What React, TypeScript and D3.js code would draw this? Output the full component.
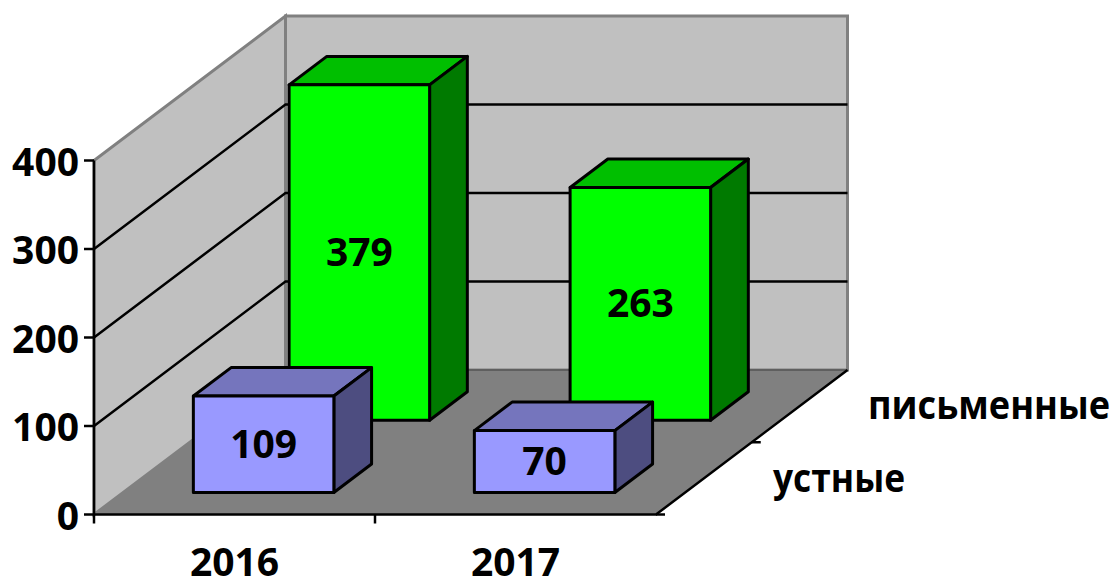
import React from "react";
import * as d3 from "d3";

const categories = ["2016", "2017"];
const seriesNames = ["устные", "письменные"];
const oralValues = [109, 70];
const writtenValues = [379, 263];
const valueTicks = [0, 100, 200, 300, 400];

const FONT = "'Open Sans', 'Noto Sans', sans-serif";
const palettes = [
  { front: "#9999FF", top: "#7575BD", side: "#4D4D80" },
  { front: "#00FF00", top: "#00BF00", side: "#007A00" },
];

const W = 1112, H = 578;
const x0 = 94, x1 = 656, y0 = 514.5;
const DX = 191.5, DY = -144.5;

const xScale = d3.scaleBand<string>().domain(categories).range([x0, x1]).paddingInner(0).paddingOuter(0);
const yScale = d3.scaleLinear().domain([0, 400]).range([0, 354]);
const zBand = d3.scaleBand<string>().domain(seriesNames).range([0, 1]);

const proj = (x: number, v: number, z: number): [number, number] => [x + DX * z, y0 - yScale(v) + DY * z];
const poly = (pts: [number, number][]) => d3.line()(pts)! + "Z";

const seriesValues = [oralValues, writtenValues];
const fontSize = 39;

export default function App() {
  const barW = xScale.bandwidth() / 2;
  const zW = zBand.bandwidth();
  const zIn = 0.304 * zW, zOut = 0.304 * zW + 0.394 * zW;
  const vBack = 400;
  return (
    <svg width={W} height={H} style={{ position: "absolute", left: 0, top: 0, background: "#fff" }} fontFamily={FONT}>
      {/* left wall */}
      <path d={poly([proj(x0, 0, 0), proj(x0, vBack, 0), proj(x0, vBack, 1), proj(x0, 0, 1)])} fill="#C0C0C0" stroke="#808080" strokeWidth={3} />
      {/* back wall */}
      <path d={poly([proj(x0, 0, 1), proj(x0, vBack, 1), proj(x1, vBack, 1), proj(x1, 0, 1)])} fill="#C0C0C0" stroke="#808080" strokeWidth={3} />
      {/* floor */}
      <path d={poly([proj(x0, 0, 0), proj(x0, 0, 1), proj(x1, 0, 1), proj(x1, 0, 0)])} fill="#808080" stroke="#808080" strokeWidth={1} />
      <path d={d3.line()([proj(x0, 0, 1), proj(x1, 0, 1)])!} stroke="#555" strokeWidth={1.5} fill="none" />
      {/* gridlines */}
      {valueTicks.filter((t) => t > 0 && t < 400).map((t) => (
        <path key={t} d={d3.line()([proj(x0, t, 0), proj(x0, t, 1), proj(x1, t, 1)])!} stroke="#000" strokeWidth={2.5} fill="none" />
      ))}
      {/* front axes */}
      <path d={d3.line()([proj(x0, 400, 0), proj(x0, 0, 0), proj(x1, 0, 0), proj(x1, 0, 1)])!} stroke="#000" strokeWidth={2.5} fill="none" />
      {valueTicks.map((t) => {
        const [px, py] = proj(x0, t, 0);
        return (
          <g key={t}>
            <line x1={px - 10} x2={px} y1={py} y2={py} stroke="#000" strokeWidth={2.5} />
            <text x={px - 15} y={py + 5} textAnchor="end" dominantBaseline="middle" fontSize={fontSize} fontWeight={700}>{t}</text>
          </g>
        );
      })}
      {[x0, x0 + xScale.step()].map((x) => (
        <line key={x} x1={x} x2={x} y1={y0} y2={y0 + 9} stroke="#000" strokeWidth={2.5} />
      ))}
      {[0, 0.5].map((z) => {
        const [px, py] = proj(x1, 0, z);
        return <line key={z} x1={px} x2={px + 9} y1={py} y2={py} stroke="#000" strokeWidth={2.5} />;
      })}
      {categories.map((c) => (
        <text key={c} x={xScale(c)! + xScale.bandwidth() / 2} y={566} textAnchor="middle" dominantBaseline="middle" fontSize={fontSize} fontWeight={700}>{c}</text>
      ))}
      <text x={868} y={409} dominantBaseline="middle" fontSize={fontSize} fontWeight={700} textLength={242} lengthAdjust="spacingAndGlyphs">{seriesNames[1]}</text>
      <text x={773} y={482} dominantBaseline="middle" fontSize={fontSize} fontWeight={700} textLength={132} lengthAdjust="spacingAndGlyphs">{seriesNames[0]}</text>
      {/* bars, back series first */}
      {[1, 0].map((s) => {
        const zStart = zBand(seriesNames[s])!;
        const za = zStart + zIn, zb = zStart + zOut;
        return categories.map((c, i) => {
          const v = seriesValues[s][i];
          const xa = xScale(c)! + xScale.bandwidth() / 4;
          const xb = xa + barW;
          const stroke = { stroke: "#000", strokeWidth: 3, strokeLinejoin: "round" as const };
          const [cx, cyTop] = proj((xa + xb) / 2, v, za);
          const [, cyBot] = proj(xa, 0, za);
          return (
            <g key={s + c}>
              <path d={poly([proj(xa, v, za), proj(xa, v, zb), proj(xb, v, zb), proj(xb, v, za)])} fill={palettes[s].top} {...stroke} />
              <path d={poly([proj(xb, 0, za), proj(xb, v, za), proj(xb, v, zb), proj(xb, 0, zb)])} fill={palettes[s].side} {...stroke} />
              <path d={poly([proj(xa, 0, za), proj(xa, v, za), proj(xb, v, za), proj(xb, 0, za)])} fill={palettes[s].front} {...stroke} />
              <text x={cx} y={(cyTop + cyBot) / 2 + 3} textAnchor="middle" dominantBaseline="middle" fontSize={fontSize} fontWeight={700}>{v}</text>
            </g>
          );
        });
      })}
    </svg>
  );
}
